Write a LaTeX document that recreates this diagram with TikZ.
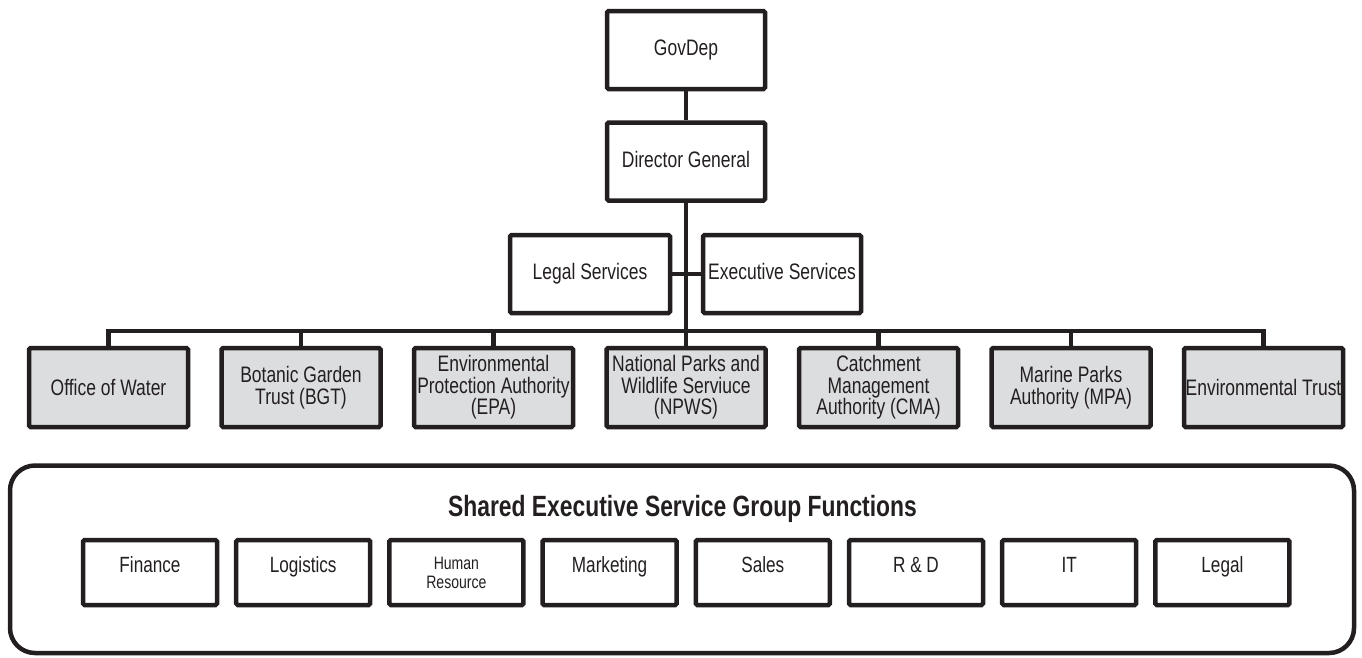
\documentclass[tikz,border=0pt]{standalone}
\usepackage{fontspec}
\setmainfont{Liberation Sans}[FakeStretch=0.78]
\definecolor{ink}{RGB}{35,31,32}
\definecolor{boxgray}{RGB}{220,221,223}
\begin{document}
\begin{tikzpicture}[x=1pt,y=-1pt,
  every node/.style={text=ink},
  box/.style={draw=ink, line width=4.5pt, rounded corners=1.5pt, inner sep=0pt, align=center, font=\fontsize{22.4}{21.5}\selectfont},
  topbox/.style={box, minimum width=158pt, minimum height=78pt, text height=16pt, text depth=4.5pt},
  unit/.style={box, fill=boxgray, minimum width=159pt, minimum height=79pt},
  fnbox/.style={box, minimum width=134pt, minimum height=65pt},
  fnlabel/.style={yshift=5.5pt, inner sep=0pt, text height=16pt, text depth=4.5pt, font=\fontsize{22}{22}\selectfont},
  wire/.style={draw=ink, line width=4.5pt},
  group/.style={draw=ink, line width=4.5pt, rounded corners=25pt, inner sep=0pt}]
\useasboundingbox (0,0) rectangle (1362,657);

% top of the chart
\node[topbox] (gov) at (686,50) {GovDep};
\node[topbox] (dg) at (686,161.5) {Director General};
\node[topbox, minimum width=160pt] (legal) at (590,274) {Legal Services};
\node[topbox] (exec) at (782,274) {Executive Services};

% units
\node[unit] (ow)   at (108.5,387.5)  {Office of Water};
\node[unit] (bgt)  at (301,387.5)    {Botanic Garden\\Trust (BGT)};
\node[unit] (epa)  at (493.5,387.5)  {Environmental\\Protection Authority\\(EPA)};
\node[unit] (npws) at (686,387.5)    {National Parks and\\Wildlife Serviuce\\(NPWS)};
\node[unit] (cma)  at (878.5,387.5)  {Catchment\\Management\\Authority (CMA)};
\node[unit] (mpa)  at (1071,387.5)   {Marine Parks\\Authority (MPA)};
\node[unit] (et)   at (1263.5,387.5) {Environmental Trust};

% connectors
\draw[wire] (gov) -- (dg);
\draw[wire] (dg) -- (npws);
\draw[wire] (legal) -- (exec);
\coordinate (bus) at (686,331);
\draw[wire] (ow.north) |- (bus) -| (et.north);
\foreach \n in {bgt,epa,cma,mpa} \draw[wire] (\n.north) -- (\n.north |- bus);

% shared group
\node[group, minimum width=1344pt, minimum height=187.5pt] (grp) at (682,559.25) {};
\node[anchor=base, inner sep=0pt, font=\bfseries\fontsize{29.3}{30}\selectfont] (title) at (682.5,516.5) {Shared Executive Service Group Functions};

\node[fnbox, label={[fnlabel]center:Finance}]   (fin) at (150,572.5) {};
\node[fnbox, label={[fnlabel]center:Logistics}] (log) at (303.2,572.5) {};
\node[fnbox, font=\fontsize{18}{19}\selectfont] (hr) at (456.4,572.5) {Human\\Resource};
\node[fnbox, label={[fnlabel]center:Marketing}] (mkt) at (609.6,572.5) {};
\node[fnbox, label={[fnlabel]center:Sales}]     (sal) at (762.8,572.5) {};
\node[fnbox, label={[fnlabel]center:R \& D}]    (rnd) at (916,572.5) {};
\node[fnbox, label={[fnlabel]center:IT}]        (it)  at (1069.2,572.5) {};
\node[fnbox, label={[fnlabel]center:Legal}]     (lgl) at (1222.4,572.5) {};
\end{tikzpicture}
\end{document}
